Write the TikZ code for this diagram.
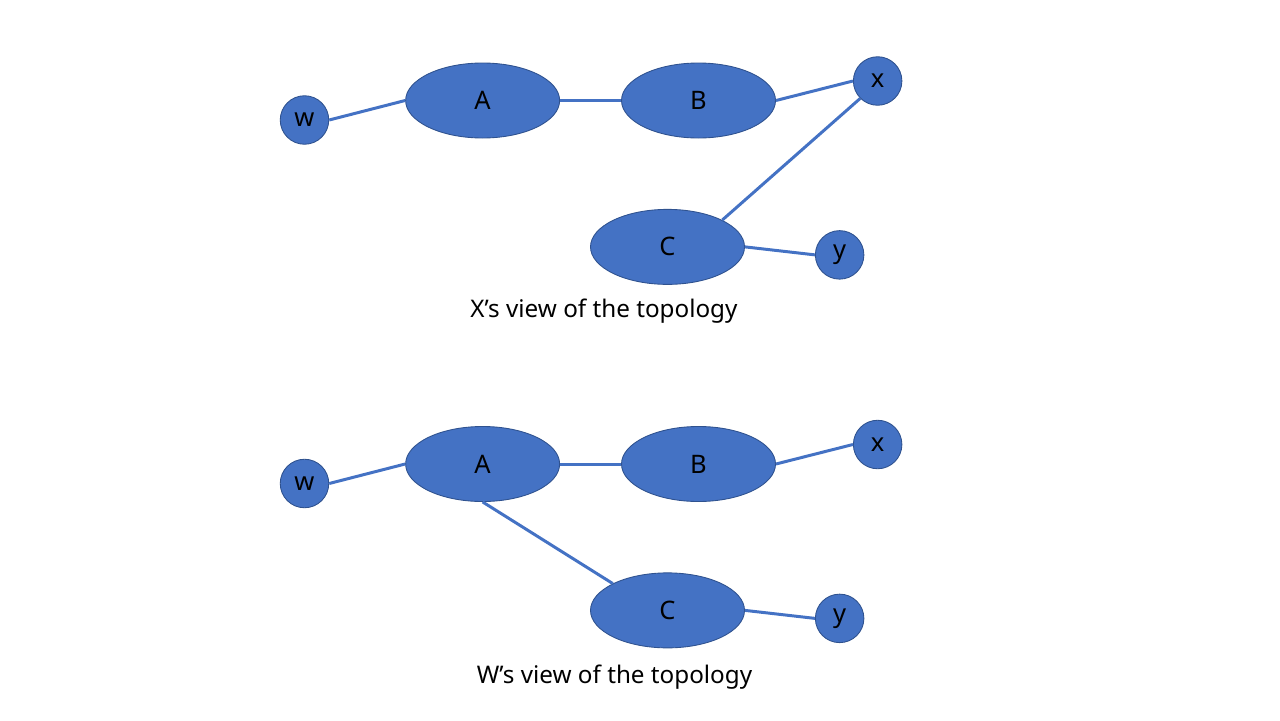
\documentclass[tikz,border=0pt]{standalone}
\usepackage{fontspec}
\setmainfont{Noto Sans}
\usepackage{xcolor}
\usetikzlibrary{shapes.geometric, positioning}

\definecolor{nodeblue}{HTML}{4472C4}
\definecolor{nodeedge}{HTML}{2F528F}

\begin{document}
\begin{tikzpicture}[
    router/.style={ellipse, draw=nodeedge, fill=nodeblue, line width=0.5pt, minimum width=3.08cm, minimum height=1.5cm, inner sep=0pt, font=\fontsize{14.5}{16}\selectfont},
    host/.style={circle, draw=nodeedge, fill=nodeblue, line width=0.5pt, minimum size=0.97cm, inner sep=0pt, font=\fontsize{14.5}{16}\selectfont},
    link/.style={nodeblue, line width=1.7pt},
    caption/.style={font=\fontsize{13.8}{16}\selectfont}
]
    \useasboundingbox (0,0) rectangle (25.6,-14.4);

    % X's view
    \node [host] (w) at (6.09,-2.40) {w};
    \node [router, right=1.52cm of w, yshift=0.39cm] (A) {A};
    \node [router, right=1.22cm of A] (B) {B};
    \node [host, right=1.54cm of B, yshift=0.39cm] (x) {x};
    \node [router, below=1.41cm of B, xshift=-0.62cm] (C) {C};
    \node [host, right=1.4cm of C, yshift=-0.16cm] (y) {y};
    \node [caption] (capX) at (12.08,-6.22) {X’s view of the topology};

    \draw [link] (w.east) -- (A.west);
    \draw [link] (A.east) -- (B.west);
    \draw [link] (B.east) -- (x.west);
    \draw [link] (C.north east) -- (x.south west);
    \draw [link] (C.east) -- (y.west);

    % W's view
    \node [host] (w2) at (6.09,-9.67) {w};
    \node [router, right=1.52cm of w2, yshift=0.39cm] (A2) {A};
    \node [router, right=1.22cm of A2] (B2) {B};
    \node [host, right=1.54cm of B2, yshift=0.39cm] (x2) {x};
    \node [router, below=1.41cm of B2, xshift=-0.62cm] (C2) {C};
    \node [host, right=1.4cm of C2, yshift=-0.16cm] (y2) {y};
    \node [caption] (capW) at (12.29,-13.54) {W’s view of the topology};

    \draw [link] (w2.east) -- (A2.west);
    \draw [link] (A2.east) -- (B2.west);
    \draw [link] (B2.east) -- (x2.west);
    \draw [link] (A2.south) -- (C2.north west);
    \draw [link] (C2.east) -- (y2.west);
\end{tikzpicture}
\end{document}
